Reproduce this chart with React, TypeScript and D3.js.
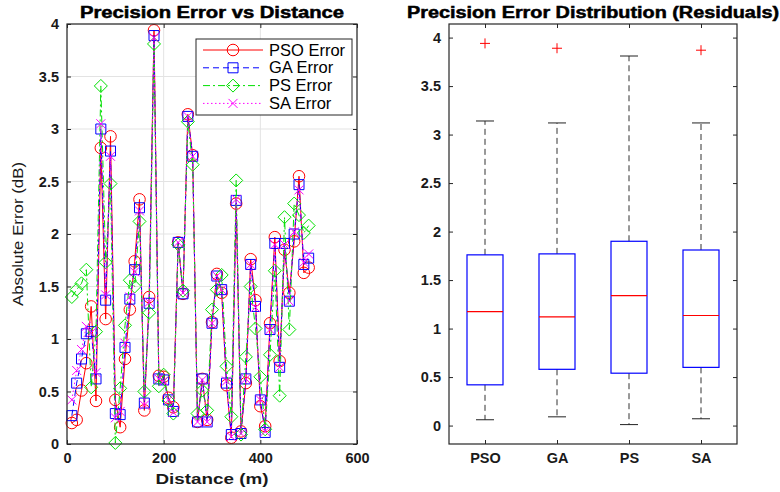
import React, { useEffect, useRef } from "react";
import * as d3 from "d3";

const WIDTH = 780;
const HEIGHT = 492;
const LEFT_AX = { LEFT: 67, RIGHT: 357, TOP: 24, BOTTOM: 444 };
const RIGHT_AX = { LEFT: 449, RIGHT: 737, TOP: 24, BOTTOM: 444 };
const FONT = '"Liberation Sans", Arial, Helvetica, sans-serif';
const AXIS_COLOR = "#262626";

// distance of every sample (m)
const distances = [
  10, 20, 30, 40, 50, 60, 70, 80, 90, 100, 110, 120, 130, 140, 150, 160, 170,
  180, 190, 200, 210, 220, 230, 240, 250, 260, 270, 280, 290, 300, 310, 320,
  330, 340, 350, 360, 370, 380, 390, 400, 410, 420, 430, 440, 450, 460, 470,
  480, 490, 500,
];

const psoError = [
  0.2, 0.23, 0.51, 0.77, 1.31, 0.41, 2.82, 1.19, 2.93, 0.42, 0.16, 0.81, 1.28,
  1.74, 2.33, 0.32, 1.4, 3.94, 0.65, 0.64, 0.44, 0.35, 1.92, 1.43, 3.14, 2.75,
  0.21, 0.62, 0.23, 1.16, 1.62, 1.44, 0.56, 0.06, 2.29, 0.12, 0.58, 1.76, 1.37,
  0.36, 0.17, 1.15, 1.97, 0.79, 1.85, 1.44, 1.93, 2.55, 1.63, 1.68,
];
const gaError = [
  0.27, 0.58, 0.81, 1.05, 1.07, 0.62, 3.0, 1.37, 2.79, 0.29, 0.28, 0.92, 1.38,
  1.66, 2.25, 0.39, 1.34, 3.89, 0.62, 0.61, 0.42, 0.31, 1.92, 1.43, 3.12, 2.74,
  0.21, 0.62, 0.21, 1.15, 1.6, 1.47, 0.58, 0.09, 2.32, 0.1, 0.62, 1.71, 1.31,
  0.42, 0.11, 1.09, 1.91, 0.73, 1.91, 1.36, 2.0, 2.47, 1.71, 1.77,
];
const psError = [
  1.4, 1.47, 1.53, 1.66, 0.54, 1.07, 3.41, 1.73, 2.48, 0.01, 0.53, 1.13, 1.56,
  1.5, 2.12, 0.5, 1.25, 3.81, 0.55, 0.66, 0.41, 0.29, 1.9, 1.46, 3.07, 2.66,
  0.29, 0.51, 0.32, 1.28, 1.47, 1.61, 0.74, 0.26, 2.51, 0.09, 0.83, 1.5, 1.1,
  0.64, 0.14, 0.85, 1.65, 0.46, 2.16, 1.09, 2.29, 2.18, 2.01, 2.08,
];
const saError = [
  0.42, 0.7, 0.9, 1.12, 1.06, 0.68, 3.05, 1.42, 2.74, 0.25, 0.31, 0.96, 1.4,
  1.64, 2.22, 0.37, 1.35, 3.87, 0.62, 0.6, 0.42, 0.3, 1.92, 1.44, 3.12, 2.74,
  0.21, 0.61, 0.21, 1.15, 1.6, 1.47, 0.6, 0.07, 2.33, 0.1, 0.62, 1.71, 1.3,
  0.42, 0.12, 1.09, 1.9, 0.73, 1.9, 1.36, 2.02, 2.42, 1.73, 1.81,
];

const legendLabels = ["PSO Error", "GA Error", "PS Error", "SA Error"];
const methodLabels = ["PSO", "GA", "PS", "SA"];
const distanceTicks = [0, 200, 400, 600];
const errorTicks = [0, 0.5, 1, 1.5, 2, 2.5, 3, 3.5, 4];

const seriesStyle = [
  { color: "#ff0000", dash: null, marker: "circle" },
  { color: "#0000ff", dash: "6,4", marker: "square" },
  { color: "#00e000", dash: "7,3,2,3", marker: "diamond" },
  { color: "#ff00ff", dash: "1.5,2.5", marker: "x" },
];

const markerPath = (type) => {
  if (type === "circle") return d3.symbol(d3.symbolCircle, 105)();
  if (type === "square") return "M-5,-5H5V5H-5Z";
  if (type === "diamond") return "M0,-6.5L6.5,0L0,6.5L-6.5,0Z";
  return "M-4.5,-4.5L4.5,4.5M-4.5,4.5L4.5,-4.5";
};

// percentile the way MATLAB's prctile does it
const prctile = (sorted, p) => {
  const n = sorted.length;
  const pos = p * n + 0.5;
  if (pos <= 1) return sorted[0];
  if (pos >= n) return sorted[n - 1];
  const lo = Math.floor(pos);
  const f = pos - lo;
  return sorted[lo - 1] + f * (sorted[lo] - sorted[lo - 1]);
};

export default function App() {
  const svgRef = useRef(null);

  useEffect(() => {
    const svg = d3.select(svgRef.current);
    svg.selectAll("*").remove();
    const allSeries = [psoError, gaError, psError, saError];

    // ---------- left: error vs distance ----------
    const x = d3.scaleLinear().domain([0, 600]).range([LEFT_AX.LEFT, LEFT_AX.RIGHT]);
    const y = d3.scaleLinear().domain([0, 4]).range([LEFT_AX.BOTTOM, LEFT_AX.TOP]);

    const left = svg.append("g");
    left
      .append("rect")
      .attr("x", LEFT_AX.LEFT)
      .attr("y", LEFT_AX.TOP)
      .attr("width", LEFT_AX.RIGHT - LEFT_AX.LEFT)
      .attr("height", LEFT_AX.BOTTOM - LEFT_AX.TOP)
      .attr("fill", "#fff");

    // grid
    left
      .selectAll(".gx")
      .data(distanceTicks)
      .enter()
      .append("line")
      .attr("x1", (d) => x(d))
      .attr("x2", (d) => x(d))
      .attr("y1", LEFT_AX.TOP)
      .attr("y2", LEFT_AX.BOTTOM)
      .attr("stroke", "#e3e3e3");
    left
      .selectAll(".gy")
      .data(errorTicks)
      .enter()
      .append("line")
      .attr("x1", LEFT_AX.LEFT)
      .attr("x2", LEFT_AX.RIGHT)
      .attr("y1", (d) => y(d))
      .attr("y2", (d) => y(d))
      .attr("stroke", "#e3e3e3");

    // lines and markers
    const line = d3
      .line()
      .x((d) => x(d[0]))
      .y((d) => y(d[1]));

    allSeries.forEach((vals, i) => {
      const st = seriesStyle[i];
      const pts = distances.map((d, k) => [d, vals[k]]);
      left
        .append("path")
        .attr("d", line(pts))
        .attr("fill", "none")
        .attr("stroke", st.color)
        .attr("stroke-width", 1)
        .attr("stroke-dasharray", st.dash);
      left
        .append("g")
        .selectAll("path")
        .data(pts)
        .enter()
        .append("path")
        .attr("d", markerPath(st.marker))
        .attr("transform", (d) => `translate(${x(d[0])},${y(d[1])})`)
        .attr("fill", "none")
        .attr("stroke", st.color)
        .attr("stroke-width", 1);
    });

    // box + ticks
    left
      .append("rect")
      .attr("x", LEFT_AX.LEFT)
      .attr("y", LEFT_AX.TOP)
      .attr("width", LEFT_AX.RIGHT - LEFT_AX.LEFT)
      .attr("height", LEFT_AX.BOTTOM - LEFT_AX.TOP)
      .attr("fill", "none")
      .attr("stroke", AXIS_COLOR)
      .attr("stroke-width", 1.2);

    const leftX = left
      .append("g")
      .attr("transform", `translate(0,${LEFT_AX.BOTTOM})`)
      .call(d3.axisBottom(x).tickValues(distanceTicks).tickSizeInner(-4).tickSizeOuter(0).tickPadding(9));
    const leftXTop = left
      .append("g")
      .attr("transform", `translate(0,${LEFT_AX.TOP})`)
      .call(d3.axisTop(x).tickValues(distanceTicks).tickSizeInner(-4).tickSizeOuter(0).tickFormat(() => ""));
    const leftY = left
      .append("g")
      .attr("transform", `translate(${LEFT_AX.LEFT},0)`)
      .call(d3.axisLeft(y).tickValues(errorTicks).tickSizeInner(-4).tickSizeOuter(0).tickPadding(8).tickFormat(d3.format("~g")));
    const leftYRight = left
      .append("g")
      .attr("transform", `translate(${LEFT_AX.RIGHT},0)`)
      .call(d3.axisRight(y).tickValues(errorTicks).tickSizeInner(-4).tickSizeOuter(0).tickFormat(() => ""));

    // ---------- right: box plot ----------
    const bx = d3.scaleLinear().domain([0.5, 4.5]).range([RIGHT_AX.LEFT, RIGHT_AX.RIGHT]);
    const by = d3.scaleLinear().domain([-0.19, 4.14]).range([RIGHT_AX.BOTTOM, RIGHT_AX.TOP]);

    const right = svg.append("g");
    right
      .append("rect")
      .attr("x", RIGHT_AX.LEFT)
      .attr("y", RIGHT_AX.TOP)
      .attr("width", RIGHT_AX.RIGHT - RIGHT_AX.LEFT)
      .attr("height", RIGHT_AX.BOTTOM - RIGHT_AX.TOP)
      .attr("fill", "#fff");

    const stats = allSeries.map((vals, i) => {
      const s = [...vals].sort((a, b) => a - b);
      const q1 = prctile(s, 0.25);
      const med = prctile(s, 0.5);
      const q3 = prctile(s, 0.75);
      const iqr = q3 - q1;
      const inside = s.filter((v) => v >= q1 - 1.5 * iqr && v <= q3 + 1.5 * iqr);
      return {
        pos: i + 1,
        q1,
        med,
        q3,
        lo: d3.min(inside),
        hi: d3.max(inside),
        out: s.filter((v) => v < q1 - 1.5 * iqr || v > q3 + 1.5 * iqr),
      };
    });

    const boxes = right.selectAll(".box").data(stats).enter().append("g");
    const bw = bx(1.25) - bx(1);
    const cw = bx(1.125) - bx(1);
    boxes
      .append("line")
      .attr("x1", (d) => bx(d.pos))
      .attr("x2", (d) => bx(d.pos))
      .attr("y1", (d) => by(d.q3))
      .attr("y2", (d) => by(d.hi))
      .attr("stroke", "#333")
      .attr("stroke-dasharray", "6,4");
    boxes
      .append("line")
      .attr("x1", (d) => bx(d.pos))
      .attr("x2", (d) => bx(d.pos))
      .attr("y1", (d) => by(d.q1))
      .attr("y2", (d) => by(d.lo))
      .attr("stroke", "#333")
      .attr("stroke-dasharray", "6,4");
    boxes
      .append("line")
      .attr("x1", (d) => bx(d.pos) - cw)
      .attr("x2", (d) => bx(d.pos) + cw)
      .attr("y1", (d) => by(d.hi))
      .attr("y2", (d) => by(d.hi))
      .attr("stroke", "#222");
    boxes
      .append("line")
      .attr("x1", (d) => bx(d.pos) - cw)
      .attr("x2", (d) => bx(d.pos) + cw)
      .attr("y1", (d) => by(d.lo))
      .attr("y2", (d) => by(d.lo))
      .attr("stroke", "#222");
    boxes
      .append("rect")
      .attr("x", (d) => bx(d.pos) - bw)
      .attr("y", (d) => by(d.q3))
      .attr("width", bw * 2)
      .attr("height", (d) => by(d.q1) - by(d.q3))
      .attr("fill", "none")
      .attr("stroke", "#0000ff")
      .attr("stroke-width", 1.2);
    boxes
      .append("line")
      .attr("x1", (d) => bx(d.pos) - bw)
      .attr("x2", (d) => bx(d.pos) + bw)
      .attr("y1", (d) => by(d.med))
      .attr("y2", (d) => by(d.med))
      .attr("stroke", "#ff0000")
      .attr("stroke-width", 1.2);
    boxes
      .selectAll(".out")
      .data((d) => d.out.map((v) => [d.pos, v]))
      .enter()
      .append("path")
      .attr("d", "M-5,0H5M0,-5V5")
      .attr("transform", (d) => `translate(${bx(d[0])},${by(d[1])})`)
      .attr("stroke", "#ff0000")
      .attr("stroke-width", 1);

    right
      .append("rect")
      .attr("x", RIGHT_AX.LEFT)
      .attr("y", RIGHT_AX.TOP)
      .attr("width", RIGHT_AX.RIGHT - RIGHT_AX.LEFT)
      .attr("height", RIGHT_AX.BOTTOM - RIGHT_AX.TOP)
      .attr("fill", "none")
      .attr("stroke", AXIS_COLOR)
      .attr("stroke-width", 1.2);

    const rightX = right
      .append("g")
      .attr("transform", `translate(0,${RIGHT_AX.BOTTOM})`)
      .call(d3.axisBottom(bx).tickValues([1, 2, 3, 4]).tickSizeInner(-4).tickSizeOuter(0).tickPadding(9).tickFormat((d) => methodLabels[d - 1]));
    const rightXTop = right
      .append("g")
      .attr("transform", `translate(0,${RIGHT_AX.TOP})`)
      .call(d3.axisTop(bx).tickValues([1, 2, 3, 4]).tickSizeInner(-4).tickSizeOuter(0).tickFormat(() => ""));
    const rightY = right
      .append("g")
      .attr("transform", `translate(${RIGHT_AX.LEFT},0)`)
      .call(d3.axisLeft(by).tickValues(errorTicks).tickSizeInner(-4).tickSizeOuter(0).tickPadding(8).tickFormat(d3.format("~g")));
    const rightYRight = right
      .append("g")
      .attr("transform", `translate(${RIGHT_AX.RIGHT},0)`)
      .call(d3.axisRight(by).tickValues(errorTicks).tickSizeInner(-4).tickSizeOuter(0).tickFormat(() => ""));

    [leftX, leftXTop, leftY, leftYRight, rightX, rightXTop, rightY, rightYRight].forEach((g) => {
      g.select(".domain").remove();
      g.selectAll(".tick line").attr("stroke", AXIS_COLOR);
      g.selectAll("text")
        .attr("font-family", FONT)
        .attr("font-size", 14.5)
        .attr("font-weight", "bold")
        .attr("fill", "#1a1a1a");
    });

    // ---------- legend ----------
    const lg = svg.append("g").attr("transform", "translate(196,39)");
    lg.append("rect")
      .attr("width", 156)
      .attr("height", 76)
      .attr("fill", "#fff")
      .attr("stroke", AXIS_COLOR)
      .attr("stroke-width", 1);
    legendLabels.forEach((lab, i) => {
      const st = seriesStyle[i];
      const ry = 11 + i * 17.8;
      lg.append("line")
        .attr("x1", 7)
        .attr("x2", 67)
        .attr("y1", ry)
        .attr("y2", ry)
        .attr("stroke", st.color)
        .attr("stroke-dasharray", st.dash);
      lg.append("path")
        .attr("d", markerPath(st.marker))
        .attr("transform", `translate(37,${ry})`)
        .attr("fill", "none")
        .attr("stroke", st.color);
      lg.append("text")
        .attr("x", 73)
        .attr("y", ry + 5.5)
        .attr("font-family", FONT)
        .attr("font-size", 16.5)
        .attr("fill", "#000")
        .text(lab);
    });

    // ---------- titles and labels ----------
    const addText = (txt, xx, yy, opts) => {
      const t = svg
        .append("text")
        .attr("x", xx)
        .attr("y", yy)
        .attr("text-anchor", "middle")
        .attr("font-family", FONT)
        .attr("font-size", opts.size)
        .attr("font-weight", opts.bold ? "bold" : "normal")
        .attr("fill", opts.fill || "#000")
        .text(txt);
      if (opts.len) t.attr("textLength", opts.len).attr("lengthAdjust", "spacingAndGlyphs");
      if (opts.heavy) t.attr("stroke", "#000").attr("stroke-width", 0.5);
      if (opts.rotate) t.attr("transform", `rotate(-90,${xx},${yy})`);
      return t;
    };
    addText("Precision Error vs Distance", (LEFT_AX.LEFT + LEFT_AX.RIGHT) / 2, 18, { size: 16, bold: true, len: 264, heavy: true });
    addText("Precision Error Distribution (Residuals)", 593, 18, { size: 16, bold: true, len: 372, heavy: true });
    addText("Distance (m)", (LEFT_AX.LEFT + LEFT_AX.RIGHT) / 2, 484, { size: 15, bold: true, len: 113, fill: "#1a1a1a" });
    addText("Absolute Error (dB)", 23, (LEFT_AX.TOP + LEFT_AX.BOTTOM) / 2, { size: 15.5, rotate: true, len: 144, fill: "#1a1a1a" });
  }, []);

  return (
    <svg
      ref={svgRef}
      width={WIDTH}
      height={HEIGHT}
      style={{ position: "absolute", left: 0, top: 0, background: "#fff" }}
    />
  );
}
